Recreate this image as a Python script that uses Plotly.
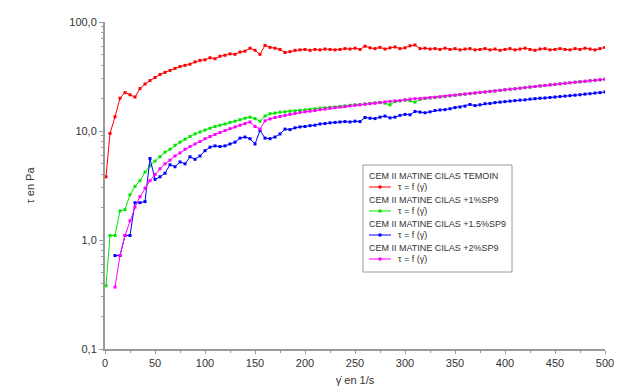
import plotly.graph_objects as go

# Shear rate (1/s)
gamma = [1, 5, 10, 15, 20, 25, 30, 35, 40, 45, 50, 55, 60, 65, 70, 75, 80, 85, 90, 95,
         100, 105, 110, 115, 120, 125, 130, 135, 140, 145, 150, 155, 160, 165, 170, 175,
         180, 185, 190, 195, 200, 205, 210, 215, 220, 225, 230, 235, 240, 245, 250, 255,
         260, 265, 270, 275, 280, 285, 290, 295, 300, 305, 310, 315, 320, 325, 330, 335,
         340, 345, 350, 355, 360, 365, 370, 375, 380, 385, 390, 395, 400, 405, 410, 415,
         420, 425, 430, 435, 440, 445, 450, 455, 460, 465, 470, 475, 480, 485, 490, 495, 500]

# Shear stress (Pa) for each mix
tau_temoin = [3.8, 9.5, 13.5, 20.0, 22.5, 21.5, 20.5, 24.5, 27.0, 29.0, 31.0, 33.0, 34.5, 36.0,
              37.5, 39.0, 40.0, 41.0, 43.0, 44.5, 45.0, 47.0, 46.0, 48.5, 49.5, 51.0, 50.5, 53.0,
              54.0, 57.5, 55.0, 50.5, 61.0, 58.5, 57.5, 56.0, 52.5, 53.5, 55.0, 55.5, 56.0, 55.0,
              56.0, 55.5, 56.5, 56.0, 55.5, 56.0, 57.0, 56.5, 57.5, 56.0, 60.0, 58.0, 57.0, 58.5,
              56.5, 58.0, 59.0, 57.0, 58.0, 60.5, 61.5, 57.0, 57.5, 56.5, 57.0, 56.0, 57.5, 56.0,
              57.0, 55.5, 56.5, 57.0, 55.5, 56.0, 57.0, 55.5, 56.5, 55.0, 56.0, 57.0, 55.5, 56.5,
              57.5, 56.0, 55.0, 56.5, 57.0, 55.5, 56.0, 57.0, 56.0, 55.5, 57.0, 56.0, 57.5, 56.5,
              55.5, 57.0, 58.5]

tau_1pc = [0.38, 1.1, 1.1, 1.85, 1.9, 2.6, 3.1, 3.5, 4.2, 4.8, 5.3, 5.8, 6.4, 6.8, 7.4, 7.9,
           8.4, 8.9, 9.4, 9.8, 10.2, 10.6, 11.0, 11.3, 11.6, 12.0, 12.3, 12.7, 13.1, 13.4, 13.0,
           12.3, 13.7, 14.4, 14.6, 14.9, 15.0, 15.2, 15.3, 15.5, 15.6, 15.8, 16.0, 16.2, 16.3,
           16.5, 16.6, 16.8, 17.0, 17.2, 17.4, 17.5, 17.7, 17.9, 18.1, 18.3, 18.0, 17.4, 18.6,
           18.9, 19.2, 19.0, 18.4, 19.5, 19.9, 20.1, 20.3, 20.5, 20.8, 21.0, 21.3, 21.5, 21.8,
           22.0, 22.3, 22.5, 22.8, 23.0, 23.3, 23.6, 23.9, 24.1, 24.4, 24.7, 25.0, 25.3, 25.6,
           25.9, 26.2, 26.5, 26.8, 27.1, 27.4, 27.7, 28.0, 28.3, 28.6, 28.9, 29.2, 29.5, 29.8]

tau_15pc = [None, None, 0.72, 0.72, 1.1, 1.1, 2.2, 2.2, 2.25, 5.6, 3.6, 3.8, 4.1, 4.9, 4.7, 5.2,
            5.0, 5.8, 5.5, 5.9, 6.6, 7.1, 7.3, 7.2, 7.3, 7.6, 7.9, 8.6, 8.8, 8.5, 7.6, 10.1, 8.6,
            8.5, 8.8, 9.4, 10.4, 10.3, 10.7, 10.9, 11.0, 11.2, 11.3, 11.6, 11.7, 11.9, 12.0, 12.1,
            12.2, 12.1, 12.3, 12.2, 13.3, 13.1, 13.0, 13.4, 13.7, 13.2, 13.4, 13.9, 14.2, 14.1,
            15.1, 14.9, 14.7, 15.0, 15.4, 15.6, 15.7, 16.0, 16.4, 16.6, 16.9, 17.5, 17.1, 17.4,
            17.8, 17.9, 18.2, 18.4, 18.6, 18.8, 19.0, 19.2, 19.3, 19.6, 19.8, 20.0, 20.1, 20.3,
            20.5, 20.7, 20.9, 21.1, 21.3, 21.5, 21.8, 22.0, 22.3, 22.5, 22.8]

tau_2pc = [None, None, 0.37, 0.72, 1.1, 1.5, 2.0, 2.5, 3.0, 3.5, 4.0, 4.5, 5.0, 5.4, 5.9, 6.3,
           6.8, 7.2, 7.6, 8.0, 8.5, 8.9, 9.3, 9.7, 10.1, 10.5, 10.9, 11.3, 11.7, 12.1, 11.0, 10.4,
           12.4, 12.9, 13.3, 13.6, 13.9, 14.2, 14.5, 14.8, 15.0, 15.2, 15.4, 15.7, 15.9, 16.2,
           16.4, 16.6, 16.8, 17.0, 17.2, 17.4, 17.6, 17.8, 18.0, 18.2, 18.5, 18.7, 18.9, 19.0,
           19.3, 19.6, 19.8, 19.8, 20.0, 20.2, 20.4, 20.6, 20.8, 21.1, 21.3, 21.6, 21.8, 22.1,
           22.3, 22.6, 22.8, 23.1, 23.3, 23.6, 23.9, 24.2, 24.4, 24.7, 25.0, 25.3, 25.6, 25.9,
           26.2, 26.5, 26.8, 27.1, 27.4, 27.7, 28.0, 28.3, 28.6, 28.9, 29.2, 29.5, 29.8]

series_titles = ["CEM II MATINE CILAS TEMOIN", "CEM II MATINE CILAS +1%SP9",
                 "CEM II MATINE CILAS +1.5%SP9", "CEM II MATINE CILAS +2%SP9"]
series_values = [tau_temoin, tau_1pc, tau_15pc, tau_2pc]
series_colors = ["#ff0000", "#00e600", "#0000ff", "#ff00ff"]
entry_label = "\u03c4 = f (\u03b3\u0307)"

y_ticks = [0.1, 1, 10, 100]
y_ticktext = ["0,1", "1,0", "10,0", "100,0"]
x_ticks = [0, 50, 100, 150, 200, 250, 300, 350, 400, 450, 500]

W, H = 618, 392
ML, MR, MT, MB = 105, 13, 22, 43
PW, PH = W - ML - MR, H - MT - MB


def px(x):
    return (x - ML) / PW


def py(y):
    return (H - MB - y) / PH


fig = go.Figure()
for title, vals, color in zip(series_titles, series_values, series_colors):
    fig.add_trace(go.Scatter(
        x=gamma, y=vals, mode="lines+markers", name=title,
        line=dict(color=color, width=1),
        marker=dict(color=color, size=3, symbol="square"),
        connectgaps=False, showlegend=False,
    ))

# Legend box drawn in paper space: a title line per mix, then its line sample
shapes = [dict(type="rect", xref="paper", yref="paper",
               x0=px(363), x1=px(512), y0=py(272), y1=py(165),
               line=dict(color="#9a9a9a", width=1), fillcolor="white", layer="above")]
annotations = []
row0, step = 176, 24
for i, (title, color) in enumerate(zip(series_titles, series_colors)):
    yh = row0 + i * step
    ys = yh + 11
    annotations.append(dict(xref="paper", yref="paper", x=px(367), y=py(yh),
                            text=title, showarrow=False, xanchor="left", yanchor="middle",
                            font=dict(size=9, color="#333333")))
    annotations.append(dict(xref="paper", yref="paper", x=px(396), y=py(ys),
                            text=entry_label, showarrow=False, xanchor="left", yanchor="middle",
                            font=dict(size=9, color="#333333")))
    shapes.append(dict(type="line", xref="paper", yref="paper",
                       x0=px(369), x1=px(391), y0=py(ys), y1=py(ys),
                       line=dict(color=color, width=1), layer="above"))
    shapes.append(dict(type="rect", xref="paper", yref="paper",
                       x0=px(378.5), x1=px(381.5), y0=py(ys + 1.5), y1=py(ys - 1.5),
                       line=dict(color=color, width=0), fillcolor=color, layer="above"))

axis_font = dict(family="Liberation Sans, Arial, sans-serif", size=11, color="#333333")

fig.update_layout(
    width=W, height=H,
    margin=dict(l=ML, r=MR, t=MT, b=MB, autoexpand=False),
    paper_bgcolor="white", plot_bgcolor="white",
    font=dict(family="Liberation Sans, Arial, sans-serif", size=9, color="#333333"),
    showlegend=False,
    shapes=shapes, annotations=annotations,
    xaxis=dict(
        range=[0, 500], tickvals=x_ticks, ticks="outside", ticklen=3,
        tickcolor="#9a9a9a", showline=True, linecolor="#9a9a9a", linewidth=2,
        showgrid=False, zeroline=False, tickfont=axis_font, automargin=False,
        minor=dict(dtick=25, ticks="outside", ticklen=2, tickcolor="#9a9a9a", showgrid=False),
        title=dict(text="\u03b3\u0307 en 1/s", font=dict(size=11, color="#333333"), standoff=8),
    ),
    yaxis=dict(
        type="log", range=[-1, 2], tickvals=y_ticks, ticktext=y_ticktext,
        ticks="outside", ticklen=4, tickcolor="#9a9a9a",
        showline=True, linecolor="#9a9a9a", linewidth=2,
        showgrid=False, zeroline=False, tickfont=axis_font, automargin=False,
        minor=dict(dtick="D1", ticks="outside", ticklen=2, tickcolor="#9a9a9a", showgrid=False),
        title=dict(text="\u03c4 en Pa", font=dict(size=11, color="#333333"), standoff=32),
    ),
)

fig.write_html("out.html")
